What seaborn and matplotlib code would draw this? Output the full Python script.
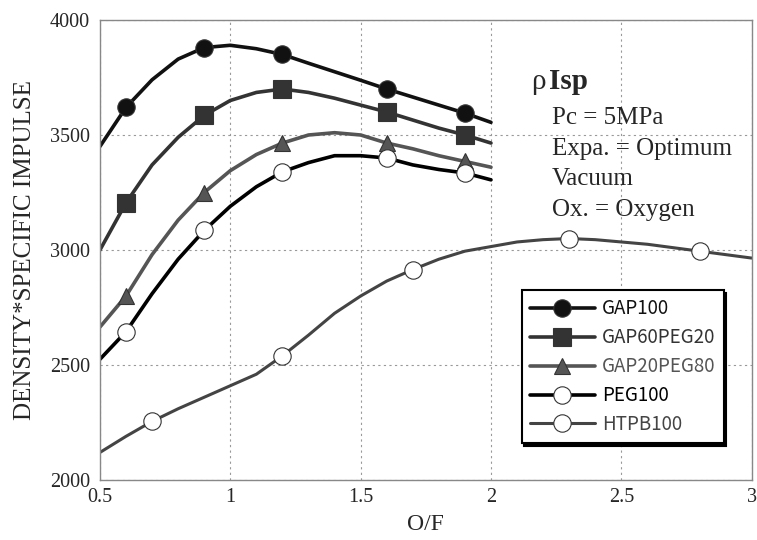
import numpy as np
import pandas as pd
import seaborn as sns
import matplotlib
matplotlib.use("Agg")
import matplotlib.pyplot as plt

# O/F grid and values
of_short = [0.5, 0.6, 0.7, 0.8, 0.9, 1.0, 1.1, 1.2, 1.3, 1.4, 1.5, 1.6, 1.7, 1.8, 1.9, 2.0]
of_long = [0.5, 0.6, 0.7, 0.8, 0.9, 1.0, 1.1, 1.2, 1.3, 1.4, 1.5, 1.6, 1.7,
           1.8, 1.9, 2.0, 2.1, 2.2, 2.3, 2.4, 2.5, 2.6, 2.7, 2.8, 2.9, 3.0]

gap100 = [3450, 3620, 3740, 3830, 3880, 3890, 3875, 3850, 3812, 3775, 3738, 3700, 3665, 3630, 3595, 3555]
gap60peg20 = [3000, 3205, 3370, 3490, 3585, 3650, 3685, 3700, 3685, 3660, 3630, 3600, 3565, 3530, 3500, 3465]
gap20peg80 = [2665, 2800, 2980, 3130, 3250, 3345, 3415, 3465, 3500, 3510, 3500, 3465, 3440, 3410, 3385, 3360]
peg100 = [2525, 2645, 2810, 2960, 3085, 3190, 3275, 3340, 3380, 3410, 3410, 3400, 3370, 3350, 3335, 3305]
htpb100 = [2120, 2190, 2255, 2310, 2360, 2410, 2460, 2540, 2630, 2725, 2800, 2865, 2915, 2960, 2995,
           3015, 3035, 3045, 3050, 3045, 3035, 3025, 3010, 2995, 2980, 2965]

names = ["GAP100", "GAP60PEG20", "GAP20PEG80", "PEG100", "HTPB100"]

sns.set_style("whitegrid")
plt.rcParams['font.family'] = ['Liberation Serif', 'DejaVu Serif']

fig = plt.figure(figsize=(7.57, 5.40), dpi=100)
ax = fig.add_axes([0.132, 0.111, 0.861, 0.852])

short_marks = [1, 4, 7, 11, 14]
long_marks = [2, 7, 12, 18, 23]

series = [
    (of_short, gap100, "#111111", "o", "#111111", 12.5, short_marks, 2.6),
    (of_short, gap60peg20, "#333333", "s", "#333333", 12.5, short_marks, 2.6),
    (of_short, gap20peg80, "#555555", "^", "#555555", 11.5, short_marks, 2.6),
    (of_short, peg100, "#000000", "o", "white", 12.5, short_marks, 2.6),
    (of_long, htpb100, "#444444", "o", "white", 12.5, long_marks, 2.2),
]

for name, (xs, ys, col, mk, mfc, ms, every, lw) in zip(names, series):
    df = pd.DataFrame({"of": xs, "val": ys})
    sns.lineplot(data=df, x="of", y="val", ax=ax, color=col, lw=lw, marker=mk,
                 markersize=ms, markerfacecolor=mfc, markeredgecolor="#333333",
                 markeredgewidth=0.8, markevery=every, label=name)

ax.set_xlim(0.5, 3.0)
ax.set_ylim(2000, 4000)
ax.set_xticks([0.5, 1, 1.5, 2, 2.5, 3])
ax.set_xticklabels(["0.5", "1", "1.5", "2", "2.5", "3"])
ax.set_yticks([2000, 2500, 3000, 3500, 4000])
ax.tick_params(axis="both", length=0, labelsize=14.5)
ax.tick_params(axis="x", pad=6)
ax.tick_params(axis="y", pad=7)
ax.grid(True, color="#999999", ls=(0, (2, 3)), lw=0.8)
for s in ax.spines.values():
    s.set_color("#888888")
    s.set_linewidth(1.0)

ax.set_xlabel("O/F", fontsize=17, labelpad=5)
ax.set_ylabel("DENSITY*SPECIFIC IMPULSE", fontsize=18, labelpad=10)

ax.text(0.662, 0.866, "\u03c1", transform=ax.transAxes, fontsize=21, va="center")
ax.text(0.689, 0.866, "Isp", transform=ax.transAxes, fontsize=21, fontweight="bold", va="center")
info = ["Pc = 5MPa", "Expa. = Optimum", "Vacuum", "Ox. = Oxygen"]
for i, t in enumerate(info):
    ax.text(0.693, 0.787 - i * 0.0667, t, transform=ax.transAxes, fontsize=18, va="center")

leg = ax.legend(loc="upper left", bbox_to_anchor=(0.647, 0.413), fancybox=False,
                shadow={"color": "black", "alpha": 1}, framealpha=1, edgecolor="black",
                prop={"family": ["Noto Sans CJK JP", "DejaVu Sans"], "size": 13.5},
                handlelength=3.45, handletextpad=0.37, labelspacing=0.42, borderpad=0.45,
                borderaxespad=0)
leg.get_frame().set_linewidth(1.5)
for txt, (xs, ys, col, *_rest) in zip(leg.get_texts(), series):
    txt.set_color(col)

fig.savefig("out.png", dpi=100)
